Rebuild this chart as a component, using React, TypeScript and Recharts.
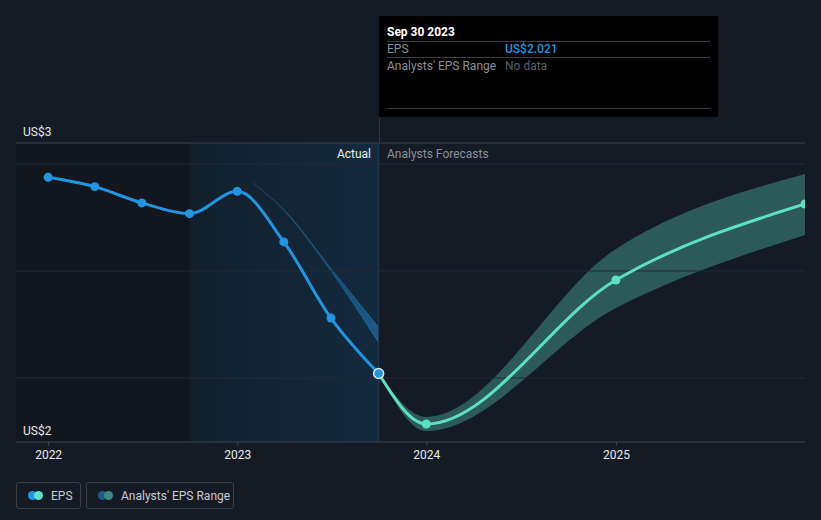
import React from 'react'
import {
  ComposedChart,
  Line,
  Area,
  XAxis,
  YAxis,
  ReferenceArea,
  ReferenceLine,
} from 'recharts'

const actualDates = ['2021-12-31', '2022-03-31', '2022-06-30', '2022-09-30', '2022-12-31', '2023-03-31', '2023-06-30', '2023-09-30']
const actualEps = [2.938, 2.894, 2.818, 2.768, 2.872, 2.636, 2.28, 2.021]

const forecastDates = ['2023-09-30', '2023-12-31', '2024-12-31', '2025-12-31']
const forecastEps = [2.021, 1.785, 2.458, 2.813]
const forecastLow = [2.021, 1.752, 2.327, 2.668]
const forecastHigh = [2.021, 1.818, 2.603, 2.953]

const pastRangeDates = ['2023-01-31', '2023-03-31', '2023-06-30', '2023-09-30']
const pastRangeLow = [2.91, 2.782, 2.5, 2.166]
const pastRangeHigh = [2.912, 2.788, 2.512, 2.236]

const yearTicks = ['2022-01-01', '2023-01-01', '2024-01-01', '2025-01-01']
const gridValues = [2, 2.5, 3]

const ts = (d: string) => Date.parse(d + 'T00:00:00Z')

const X_MIN = ts('2021-10-30')
const X_MAX = ts('2025-12-31')
const Y_MIN = 1.701
const Y_MAX = 3.098
const PAST_START = ts('2022-09-30')
const HOVER = ts('2023-09-30')

const BLUE = '#2394df'
const TEAL = '#5ee0c6'
const BG = '#151b25'
const MUTED = '#8b9099'

type Row = {
  t: number
  eps?: number
  forecast?: number
  fRange?: [number, number]
  pRange?: [number, number]
}

// merge the series onto one time axis
const rowMap = new Map<number, Row>()
const row = (d: string) => {
  const t = ts(d)
  if (!rowMap.has(t)) rowMap.set(t, { t })
  return rowMap.get(t) as Row
}
actualDates.forEach((d, i) => { row(d).eps = actualEps[i] })
forecastDates.forEach((d, i) => {
  const r = row(d)
  r.forecast = forecastEps[i]
  r.fRange = [forecastLow[i], forecastHigh[i]]
})
pastRangeDates.forEach((d, i) => { row(d).pRange = [pastRangeLow[i], pastRangeHigh[i]] })
const data = Array.from(rowMap.values()).sort((a, b) => a.t - b.t)

const hoverEps = actualEps[actualDates.indexOf('2023-09-30')]

function ActualDot(props: any) {
  const { cx, cy, payload, index } = props
  if (cx == null || cy == null || payload.eps == null) return <g key={`a-${index}`} />
  if (payload.t === HOVER) {
    return <circle key={`a-${index}`} cx={cx} cy={cy} r={5} fill={BLUE} stroke="#dbe6ef" strokeWidth={1.5} />
  }
  return <circle key={`a-${index}`} cx={cx} cy={cy} r={4.5} fill={BLUE} />
}

function ForecastDot(props: any) {
  const { cx, cy, payload, index } = props
  if (cx == null || cy == null || payload.forecast == null || payload.t === HOVER) return <g key={`f-${index}`} />
  return <circle key={`f-${index}`} cx={cx} cy={cy} r={4.5} fill={TEAL} />
}

const yLabel = (v: number) => ({
  value: 'US$' + Math.round(v),
  position: 'insideBottomLeft' as const,
  offset: 7,
  fill: '#e8eaed',
  fontSize: 12,
})

const font = 'Roboto, "Noto Sans", sans-serif'

export default function App() {
  return (
    <div style={{ position: 'absolute', left: 0, top: 0, width: 821, height: 520, background: BG, fontFamily: font, overflow: 'hidden' }}>
      <ComposedChart width={821} height={520} data={data} margin={{ top: 143, right: 16, bottom: 48, left: 16 }}>
        <defs>
          <linearGradient id="pastBg" x1="0" y1="0" x2="1" y2="0">
            <stop offset="0%" stopColor="#121f2c" />
            <stop offset="100%" stopColor="#132a3f" />
          </linearGradient>
          <linearGradient id="pastRange" x1="0" y1="0" x2="1" y2="0">
            <stop offset="0%" stopColor={BLUE} stopOpacity={0.12} />
            <stop offset="100%" stopColor={BLUE} stopOpacity={0.45} />
          </linearGradient>
        </defs>
        <XAxis
          dataKey="t"
          type="number"
          domain={[X_MIN, X_MAX]}
          allowDataOverflow
          ticks={yearTicks.map(ts)}
          tickFormatter={(v: number) => String(new Date(v).getUTCFullYear())}
          axisLine={{ stroke: '#3d424c' }}
          tickLine={{ stroke: '#3d424c' }}
          tickSize={4}
          tickMargin={4}
          tick={{ fill: '#e8eaed', fontSize: 12 }}
          height={30}
          interval={0}
        />
        <YAxis type="number" domain={[Y_MIN, Y_MAX]} allowDataOverflow width={0} hide />
        <ReferenceArea x1={X_MIN} x2={PAST_START} fill="#12161e" fillOpacity={1} stroke="none" />
        <ReferenceArea x1={PAST_START} x2={HOVER} fill="url(#pastBg)" fillOpacity={1} stroke="none" />
        {gridValues.map((v) => (
          <ReferenceLine key={v} y={v} stroke="#232a35" strokeWidth={1} />
        ))}
        <ReferenceLine y={Y_MAX} stroke="#3d424c" strokeWidth={1} label={yLabel(Y_MAX)} />
        <ReferenceLine y={Y_MIN} stroke="none" label={yLabel(Y_MIN)} />
        <ReferenceLine x={HOVER} stroke="#22384d" strokeWidth={1} />
        <Area
          type="monotone"
          dataKey="pRange"
          stroke="url(#pastRange)"
          strokeWidth={1}
          fill="url(#pastRange)"
          fillOpacity={1}
          connectNulls
          isAnimationActive={false}
          activeDot={false}
        />
        <Area
          type="monotone"
          dataKey="fRange"
          stroke="none"
          fill={TEAL}
          fillOpacity={0.32}
          connectNulls
          isAnimationActive={false}
          activeDot={false}
        />
        <Line
          type="monotone"
          dataKey="forecast"
          stroke={TEAL}
          strokeWidth={3}
          connectNulls
          dot={<ForecastDot />}
          activeDot={false}
          isAnimationActive={false}
        />
        <Line
          type="monotone"
          dataKey="eps"
          stroke={BLUE}
          strokeWidth={3}
          connectNulls
          dot={<ActualDot />}
          activeDot={false}
          isAnimationActive={false}
        />
      </ComposedChart>

      {/* cursor line above the plot */}
      <div style={{ position: 'absolute', left: 378.5, top: 117, width: 1, height: 26, background: '#22384d' }} />

      {/* section labels */}
      <div style={{ position: 'absolute', right: 821 - 371, top: 146, fontSize: 12, color: '#eef0f2', lineHeight: '16px' }}>Actual</div>
      <div style={{ position: 'absolute', left: 387, top: 146, fontSize: 12, color: MUTED, lineHeight: '16px' }}>Analysts Forecasts</div>

      {/* tooltip */}
      <div style={{ position: 'absolute', left: 379, top: 16, width: 339, height: 101, background: '#000', fontSize: 12 }}>
        <div style={{ position: 'absolute', left: 8, right: 8, top: 7, height: 18, color: '#fff', fontWeight: 700, lineHeight: '18px', borderBottom: '1px solid #3a3f47' }}>
          Sep 30 2023
        </div>
        <div style={{ position: 'absolute', left: 8, right: 8, top: 25, height: 16, lineHeight: '16px', borderBottom: '1px solid #3a3f47' }}>
          <span style={{ color: MUTED }}>EPS</span>
          <span style={{ position: 'absolute', left: 118, color: BLUE, fontWeight: 500 }}>{'US$' + hoverEps.toFixed(3)}</span>
        </div>
        <div style={{ position: 'absolute', left: 8, right: 8, top: 42, height: 16, lineHeight: '16px' }}>
          <span style={{ color: MUTED }}>Analysts' EPS Range</span>
          <span style={{ position: 'absolute', left: 118, color: '#5a5f67' }}>No data</span>
        </div>
        <div style={{ position: 'absolute', left: 8, right: 8, top: 92, height: 1, background: '#3a3f47' }} />
      </div>

      {/* legend */}
      <div style={{ position: 'absolute', left: 16, top: 482, width: 63, height: 25, border: '1px solid #3a404a', borderRadius: 3, display: 'flex', alignItems: 'center' }}>
        <div style={{ position: 'relative', width: 16, height: 9, marginLeft: 11 }}>
          <div style={{ position: 'absolute', left: 0, top: 0, width: 9, height: 9, borderRadius: 5, background: BLUE }} />
          <div style={{ position: 'absolute', left: 6, top: 0, width: 9, height: 9, borderRadius: 5, background: TEAL }} />
        </div>
        <span style={{ marginLeft: 7, fontSize: 12, color: '#c9ccd1' }}>EPS</span>
      </div>
      <div style={{ position: 'absolute', left: 86, top: 482, width: 146, height: 25, border: '1px solid #3a404a', borderRadius: 3, display: 'flex', alignItems: 'center' }}>
        <div style={{ position: 'relative', width: 16, height: 9, marginLeft: 11 }}>
          <div style={{ position: 'absolute', left: 0, top: 0, width: 9, height: 9, borderRadius: 5, background: '#1f5a86' }} />
          <div style={{ position: 'absolute', left: 6, top: 0, width: 9, height: 9, borderRadius: 5, background: '#3f8a82' }} />
        </div>
        <span style={{ marginLeft: 7, fontSize: 12, color: '#c9ccd1' }}>Analysts' EPS Range</span>
      </div>
    </div>
  )
}
